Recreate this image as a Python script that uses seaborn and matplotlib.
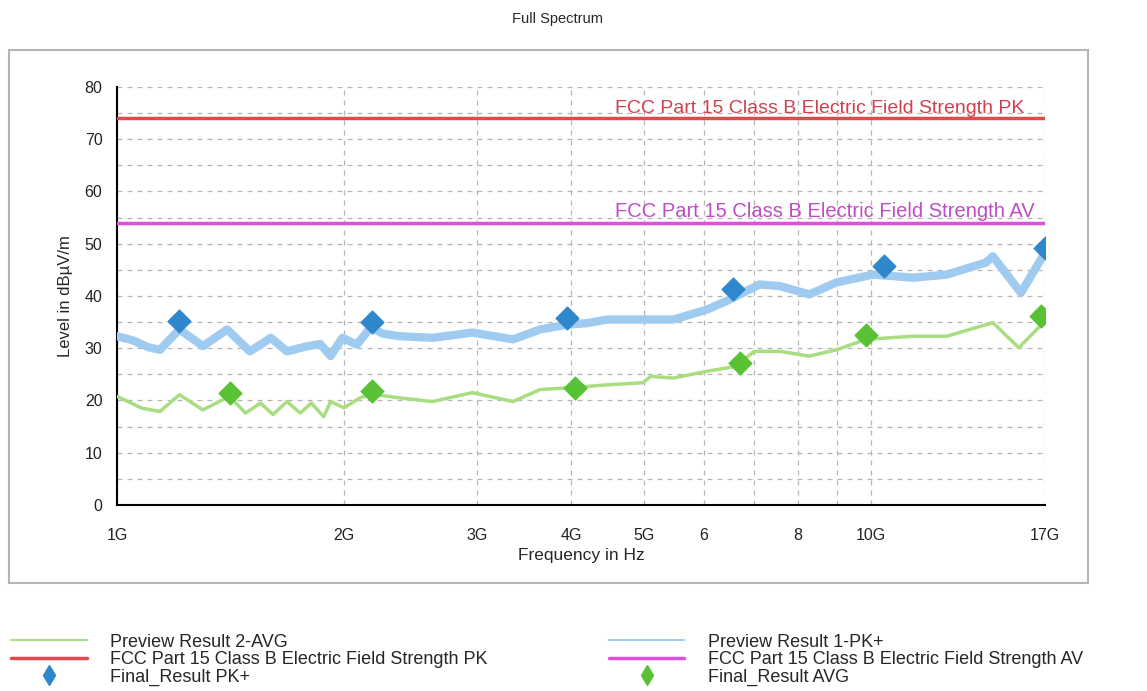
import numpy as np
import pandas as pd
import seaborn as sns
import matplotlib.pyplot as plt
from matplotlib.lines import Line2D
from matplotlib.patches import Rectangle
from matplotlib.ticker import FixedLocator, NullLocator, MultipleLocator

# Dados (frequencia em GHz, nivel em dBuV/m)
freq_pk = [1.0, 1.05, 1.1, 1.14, 1.21, 1.30, 1.40, 1.50, 1.60, 1.68, 1.79, 1.86, 1.92,
           1.99, 2.08, 2.17, 2.25, 2.37, 2.62, 2.96, 3.35, 3.64, 3.95, 4.2, 4.47, 4.98,
           5.47, 6.06, 6.49, 7.11, 7.57, 8.28, 9.0, 10.06, 11.37, 12.6, 14.2, 14.5,
           15.8, 17.0]
level_pk = [32.3, 31.5, 30.2, 29.7, 33.6, 30.4, 33.6, 29.4, 32.0, 29.4, 30.4, 30.8, 28.5,
            32.0, 30.7, 34.0, 32.8, 32.3, 32.0, 33.0, 31.7, 33.6, 34.5, 34.8, 35.5, 35.5,
            35.5, 37.4, 39.3, 42.2, 41.9, 40.3, 42.6, 44.1, 43.5, 44.1, 46.4, 47.6,
            40.6, 48.3]

freq_avg = [1.0, 1.08, 1.14, 1.21, 1.30, 1.41, 1.48, 1.55, 1.61, 1.68, 1.75, 1.81, 1.88,
            1.92, 2.0, 2.1, 2.18, 2.37, 2.62, 2.96, 3.35, 3.64, 4.05, 4.47, 4.98, 5.1,
            5.47, 6.06, 6.6, 7.0, 7.57, 8.28, 9.0, 9.85, 11.37, 12.6, 14.5, 15.7, 17.0]
level_avg = [20.8, 18.5, 17.9, 21.1, 18.2, 20.8, 17.6, 19.5, 17.3, 19.8, 17.6, 19.5, 16.9,
             19.8, 18.6, 20.5, 21.2, 20.5, 19.8, 21.5, 19.8, 22.1, 22.5, 23.0, 23.4, 24.6,
             24.3, 25.6, 26.5, 29.4, 29.4, 28.5, 29.7, 31.7, 32.3, 32.3, 34.9, 30.1, 35.2]

final_pk_freq = [1.21, 2.18, 3.95, 6.55, 10.4, 17.0]
final_pk_level = [35.3, 35.0, 35.7, 41.4, 45.8, 49.2]
final_avg_freq = [1.41, 2.18, 4.05, 6.7, 9.85, 16.8]
final_avg_level = [21.5, 21.8, 22.4, 27.2, 32.6, 36.1]

limite_pk = 74.0
limite_av = 54.0
freq_limite = [1.0, 17.0]

ticks_x = [1, 2, 3, 4, 5, 6, 7, 8, 9, 10, 17]
rotulos_x = ["1G", "2G", "3G", "4G", "5G", "6", "", "8", "", "10G", "17G"]

cor_pk = "#9fcbf1"
cor_avg = "#a9dd82"
cor_lim_pk = "#e2494b"
cor_lim_av = "#e04ee0"
cor_mk_pk = "#2f87cc"
cor_mk_avg = "#58c234"

sns.set_style("white")
plt.rcParams['font.family'] = ['Liberation Sans', 'DejaVu Sans']

df_pk = pd.DataFrame({"freq": freq_pk, "nivel": level_pk})
df_avg = pd.DataFrame({"freq": freq_avg, "nivel": level_avg})
df_fpk = pd.DataFrame({"freq": final_pk_freq, "nivel": final_pk_level})
df_favg = pd.DataFrame({"freq": final_avg_freq, "nivel": final_avg_level})

fig = plt.figure(figsize=(11.47, 6.91), dpi=100)
ax = fig.add_axes([0.102, 0.2692, 0.809, 0.6049])

sns.lineplot(data=df_pk, x="freq", y="nivel", ax=ax, color=cor_pk, linewidth=6, zorder=3)
sns.lineplot(data=df_avg, x="freq", y="nivel", ax=ax, color=cor_avg, linewidth=2.5, zorder=3)
ax.plot(freq_limite, [limite_pk, limite_pk], color=cor_lim_pk, linewidth=2.5, zorder=4)
ax.plot(freq_limite, [limite_av, limite_av], color=cor_lim_av, linewidth=2.5, zorder=4)
sns.scatterplot(data=df_fpk, x="freq", y="nivel", ax=ax, marker="D", s=135,
                color=cor_mk_pk, edgecolor=cor_mk_pk, zorder=5)
sns.scatterplot(data=df_favg, x="freq", y="nivel", ax=ax, marker="D", s=135,
                color=cor_mk_avg, edgecolor=cor_mk_avg, zorder=5)

ax.text(4.57, limite_pk + 0.3, "FCC Part 15 Class B Electric Field Strength PK",
        color="#d0404e", fontsize=14, ha="left", va="bottom", zorder=6)
ax.text(4.57, limite_av + 0.3, "FCC Part 15 Class B Electric Field Strength AV",
        color="#c04cc4", fontsize=14.5, ha="left", va="bottom", zorder=6, clip_on=False)

ax.set_xscale("log")
ax.set_xlim(1, 17)
ax.set_ylim(0, 80)
ax.xaxis.set_major_locator(FixedLocator(ticks_x))
ax.xaxis.set_minor_locator(NullLocator())
ax.set_xticklabels(rotulos_x)
ax.yaxis.set_major_locator(MultipleLocator(10))
ax.yaxis.set_minor_locator(MultipleLocator(5))
ax.tick_params(axis="both", which="both", direction="inout", length=9, width=1.3,
               color="black", labelsize=11.5, labelcolor="#222222")
ax.tick_params(axis="x", pad=12)
ax.tick_params(axis="y", pad=6)

ax.grid(True, which="both", linestyle=(0, (4, 4)), color="#b5b5b5", linewidth=0.9)
for lado in ["top", "right"]:
    ax.spines[lado].set_visible(False)
for lado in ["left", "bottom"]:
    ax.spines[lado].set_color("black")
    ax.spines[lado].set_linewidth(1.5)

ax.set_xlabel("Frequency in Hz", fontsize=12.5, labelpad=4)
ax.set_ylabel("Level in dB\u00b5V/m", fontsize=12, labelpad=8)

fig.text(0.486, 0.972, "Full Spectrum", fontsize=10.5, ha="center", va="center")

fig.patches.append(Rectangle((0.0078, 0.1563), 0.9407, 0.7713, transform=fig.transFigure,
                             fill=False, edgecolor="#b4b4b4", linewidth=1.5))

handles = [
    Line2D([], [], color=cor_avg, linewidth=1.5),
    Line2D([], [], color=cor_lim_pk, linewidth=2.5),
    Line2D([], [], color=cor_mk_pk, marker="d", linestyle="none", markersize=10),
    Line2D([], [], color=cor_pk, linewidth=1.5),
    Line2D([], [], color=cor_lim_av, linewidth=2.5),
    Line2D([], [], color=cor_mk_avg, marker="d", linestyle="none", markersize=10),
]
labels = [
    "Preview Result 2-AVG",
    "FCC Part 15 Class B Electric Field Strength PK",
    "Final_Result PK+",
    "Preview Result 1-PK+",
    "FCC Part 15 Class B Electric Field Strength AV",
    "Final_Result AVG",
]
fig.legend(handles, labels, ncol=2, loc="lower left", bbox_to_anchor=(0.0, -0.008),
           frameon=False, fontsize=13, handlelength=4.2, handletextpad=1.3,
           labelspacing=0.02, columnspacing=6.7, borderaxespad=0.2)

fig.savefig("out.png", dpi=100)
